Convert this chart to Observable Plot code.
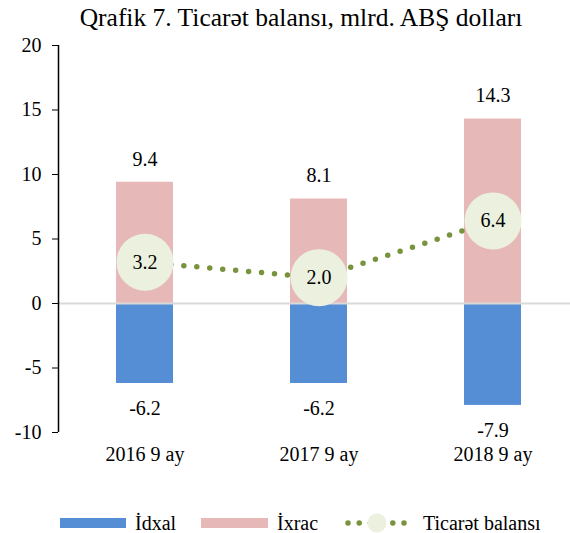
<!DOCTYPE html>
<html>
<head>
<meta charset="utf-8">
<script src="https://cdn.jsdelivr.net/npm/d3@7"></script>
<script src="https://cdn.jsdelivr.net/npm/@observablehq/plot@0.6"></script>
<style>
  body { margin: 0; background: #fff; font-family: "Liberation Serif", "Times New Roman", serif; }
  #title { height: 34px; line-height: 36px; text-align: center; font-size: 25.5px; color: #000; padding-left: 32px; white-space: nowrap; }
  #chart svg { display: block; }
  #chart svg, #chart svg text, #legend svg text { font-family: "Liberation Serif", "Times New Roman", serif !important; fill: #000; }
</style>
</head>
<body>
<div id="title">Qrafik 7. Ticarət balansı, mlrd. ABŞ dolları</div>
<div id="chart"></div>
<div id="legend"></div>
<script>
const categories = ["2016 9 ay", "2017 9 ay", "2018 9 ay"];
const exports_ = [9.4, 8.1, 14.3];
const imports_ = [-6.2, -6.2, -7.9];
const balance = [3.2, 2.0, 6.4];
const yTicks = [-10, -5, 0, 5, 10, 15, 20];
const seriesNames = ["İdxal", "İxrac", "Ticarət balansı"];
const colors = { import: "#558ED5", export: "#E6B9B8", line: "#77933C", marker: "#EBF1DE" };

const rows = categories.map((c, i) => ({ cat: c, exp: exports_[i], imp: imports_[i], bal: balance[i] }));
const fmt = v => v.toFixed(1);
const font = "'Liberation Serif', 'Times New Roman', serif";

const plot = Plot.plot({
  width: 570,
  height: 460,
  marginTop: 11,
  marginBottom: 62,
  marginLeft: 58,
  marginRight: 0,
  style: { fontFamily: font, fontSize: "20px", color: "#000", overflow: "visible" },
  x: { domain: categories, range: [58, 579], paddingInner: 0.672, paddingOuter: 0.333, label: null },
  y: { domain: [-10, 20], label: null },
  marks: [
    Plot.barY(rows, { x: "cat", y1: 0, y2: "exp", fill: colors.export }),
    Plot.barY(rows, { x: "cat", y1: 0, y2: "imp", fill: colors.import }),
    Plot.ruleY([0], { stroke: "#D9D9D9", strokeWidth: 2 }),
    Plot.text(rows, { x: "cat", y: "exp", text: d => fmt(d.exp), dy: -23, fontSize: 20 }),
    Plot.text(rows, { x: "cat", y: "imp", text: d => fmt(d.imp), dy: 25, fontSize: 20 }),
    Plot.line(rows, { x: "cat", y: "bal", stroke: colors.line, strokeWidth: 5.5, strokeLinecap: "round", strokeDasharray: "0 13" }),
    Plot.dot(rows, { x: "cat", y: "bal", r: 28.5, fill: colors.marker, stroke: null }),
    Plot.text(rows, { x: "cat", y: "bal", text: d => fmt(d.bal), fontSize: 20 }),
    Plot.axisY({ ticks: yTicks, tickSize: 6, tickPadding: 11, tickFormat: d => String(d), fontSize: 20, stroke: "#000" }),
    Plot.axisX({ tickSize: 0, tickPadding: 14, fontSize: 20 })
  ]
});
document.getElementById("chart").appendChild(plot);

// Y axis domain line
const svg = d3.select(plot);
const ys = plot.scale("y");
svg.append("line")
  .attr("x1", 58.5).attr("x2", 58.5)
  .attr("y1", ys.apply(20)).attr("y2", ys.apply(-10))
  .attr("stroke", "#000").attr("stroke-width", 1.5);

// Legend
const lg = d3.select("#legend").append("svg").attr("width", 570).attr("height", 39)
  .style("display", "block").style("font-family", font).style("font-size", "20px");
lg.append("rect").attr("x", 60).attr("y", 24).attr("width", 66).attr("height", 10).attr("fill", colors.import);
lg.append("text").attr("x", 135).attr("y", 36).text(seriesNames[0]);
lg.append("rect").attr("x", 201).attr("y", 24).attr("width", 67).attr("height", 10).attr("fill", colors.export);
lg.append("text").attr("x", 277).attr("y", 36).text(seriesNames[1]);
lg.append("line").attr("x1", 348).attr("x2", 404).attr("y1", 29).attr("y2", 29)
  .attr("stroke", colors.line).attr("stroke-width", 5.5).attr("stroke-linecap", "round").attr("stroke-dasharray", "0 11.2");
lg.append("circle").attr("cx", 377).attr("cy", 29).attr("r", 9.5).attr("fill", colors.marker);
lg.append("text").attr("x", 423).attr("y", 36).text(seriesNames[2]);
</script>
</body>
</html>
